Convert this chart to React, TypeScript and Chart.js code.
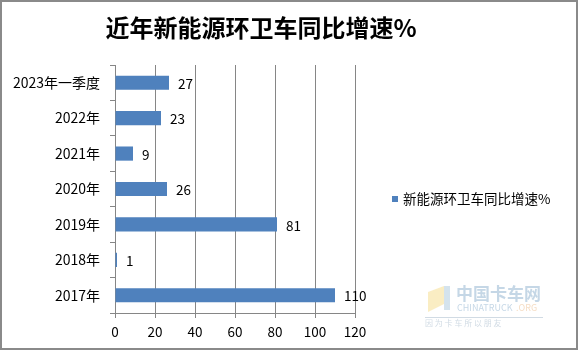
import React, { useEffect, useRef } from "react";
import { Chart, registerables } from "chart.js";

Chart.register(...registerables);

const categories = ["2023年一季度", "2022年", "2021年", "2020年", "2019年", "2018年", "2017年"];
const growthValues = [27, 23, 9, 26, 81, 1, 110];
const seriesName = "新能源环卫车同比增速%";
const titleText = "近年新能源环卫车同比增速%";
const xTicks = [0, 20, 40, 60, 80, 100, 120];

const FONT = "'Noto Sans CJK SC', 'DejaVu Sans', sans-serif";
const BAR = "#4F81BD";

const decorPlugin = {
  id: "decor",
  beforeDraw(chart: any) {
    const ctx = chart.ctx;
    ctx.save();
    ctx.fillStyle = "#ffffff";
    ctx.fillRect(0, 0, chart.width, chart.height);
    ctx.restore();
  },
  afterDraw(chart: any) {
    const ctx = chart.ctx;
    ctx.save();
    // border
    ctx.strokeStyle = "#8a8a8a";
    ctx.lineWidth = 2;
    ctx.strokeRect(1, 1, 576, 348);
    // title
    ctx.fillStyle = "#000000";
    ctx.font = `bold 24px ${FONT}`;
    ctx.textAlign = "center";
    ctx.textBaseline = "middle";
    ctx.fillText(titleText, 261, 28);
    // legend
    ctx.fillStyle = BAR;
    ctx.fillRect(392, 196, 6, 6);
    ctx.fillStyle = "#000000";
    ctx.font = `13.5px ${FONT}`;
    ctx.textAlign = "left";
    ctx.fillText(seriesName, 403, 199);
    // data labels
    const meta = chart.getDatasetMeta(0);
    ctx.font = `13.5px ${FONT}`;
    ctx.textAlign = "left";
    ctx.textBaseline = "middle";
    meta.data.forEach((bar: any, i: number) => {
      ctx.fillText(String(growthValues[i]), bar.x + 9, bar.y + 1);
    });
    // watermark
    ctx.globalAlpha = 0.45;
    ctx.fillStyle = "#f3d77a";
    ctx.beginPath();
    ctx.moveTo(428, 292);
    ctx.lineTo(444, 286);
    ctx.lineTo(444, 304);
    ctx.lineTo(428, 312);
    ctx.closePath();
    ctx.fill();
    ctx.fillStyle = "#9fc0d8";
    ctx.fillRect(444, 286, 6, 24);
    ctx.fillStyle = "#7fa6c8";
    ctx.font = `bold 17px ${FONT}`;
    ctx.fillText("中国卡车网", 456, 294);
    ctx.font = `9px ${FONT}`;
    ctx.fillText("CHINATRUCK", 457, 308);
    ctx.fillStyle = "#e8b27a";
    ctx.fillText(".ORG", 516, 308);
    ctx.fillStyle = "#9ab0c4";
    ctx.fillRect(425, 317, 118, 1);
    ctx.font = `8px ${FONT}`;
    ctx.fillText("因 为 卡 车 所 以 朋 友", 425, 323);
    ctx.restore();
  },
};

export default function App() {
  const ref = useRef<HTMLCanvasElement | null>(null);
  useEffect(() => {
    if (!ref.current) return;
    const chart = new Chart(ref.current, {
      type: "bar",
      data: {
        labels: categories,
        datasets: [
          {
            label: seriesName,
            data: growthValues,
            backgroundColor: BAR,
            borderWidth: 0,
            categoryPercentage: 1,
            barPercentage: 0.4,
          },
        ],
      },
      options: {
        indexAxis: "y",
        animation: false,
        responsive: false,
        maintainAspectRatio: false,
        layout: { padding: { left: 0, top: 65, right: 225, bottom: 0 } },
        plugins: {
          legend: { display: false },
          title: { display: false },
          tooltip: { enabled: false },
        },
        scales: {
          x: {
            min: 0,
            max: 120,
            afterBuildTicks: (scale: any) => {
              scale.ticks = xTicks.map((v) => ({ value: v }));
            },
            afterFit: (scale: any) => {
              scale.height = 39;
            },
            border: { display: true, color: "#868686", width: 1 },
            grid: { color: "#868686", lineWidth: 1, tickLength: 5, drawTicks: true },
            ticks: {
              color: "#000000",
              font: { family: FONT, size: 13.5 },
              padding: 6,
              maxRotation: 0,
            },
          },
          y: {
            offset: true,
            afterFit: (scale: any) => {
              scale.width = 115;
            },
            border: { display: true, color: "#868686", width: 1 },
            grid: { offset: true, drawOnChartArea: false, color: "#868686", tickLength: 5 },
            ticks: {
              color: "#000000",
              font: { family: FONT, size: 14 },
              padding: 10,
            },
          },
        },
      },
      plugins: [decorPlugin],
    } as any);
    return () => chart.destroy();
  }, []);
  return (
    <div style={{ position: "absolute", left: 0, top: 0, width: 580, height: 352 }}>
      <canvas ref={ref} width={580} height={352} style={{ display: "block" }} />
    </div>
  );
}
